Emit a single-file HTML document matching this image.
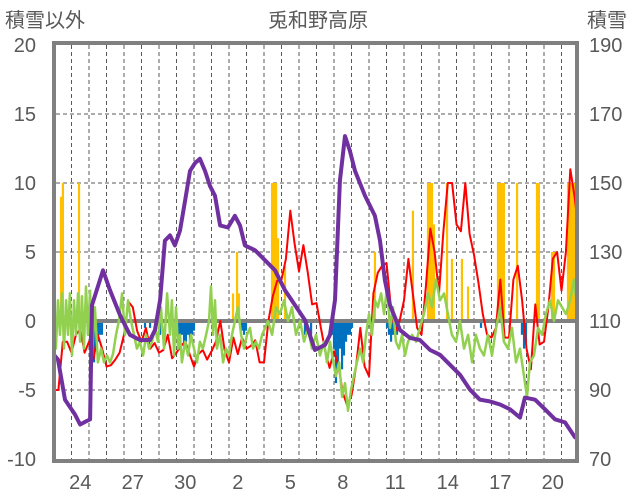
<!DOCTYPE html>
<html><head><meta charset="utf-8"><style>
html,body{margin:0;padding:0;background:#fff;}
svg{display:block;font-family:"Liberation Sans","Noto Sans CJK JP",sans-serif;}
</style></head><body>
<svg id="chart" width="636" height="501" viewBox="0 0 636 501" xmlns="http://www.w3.org/2000/svg">
<defs><clipPath id="pc"><rect x="56" y="45" width="519" height="414"/></clipPath></defs>
<text x="5" y="27" font-size="20" fill="#595959">積雪以外</text>
<text x="318" y="27" font-size="20" fill="#595959" text-anchor="middle">兎和野高原</text>
<text x="587" y="27" font-size="20" fill="#595959">積雪</text>
<g id="grid"></g>
<g id="bars" clip-path="url(#pc)"></g>
<g id="lines" clip-path="url(#pc)"></g>
<g id="frame"></g>
<g id="labels"></g>
</svg>
<script>
const leftTicks=[20,15,10,5,0,-5,-10];
const rightTicks=[190,170,150,130,110,90,70];
const xTickLabels=["24","27","30","2","5","8","11","14","17","20"];
const xTickDays=[1,4,7,10,13,16,19,22,25,28];
const yellowDay=[0.40,0.51,1.43,10.23,10.46,10.57,12.46,12.57,12.69,12.8,13.2,18.34,20.51,21.37,21.49,21.6,21.71,22.46,22.74,23.31,23.66,25.37,25.49,25.6,25.71,26.46,27.6,27.71,28.46,28.57,29.37,29.49,29.6,29.71];
const yellowVal=[9,10,10,2,5,2,10,10,10,6,4,5,8,10,10,10,7,10,4.5,4.5,2.5,10,10,10,10,10,10,10,5,5,10,10,10,10];
const blueDay=[0.11,1.94,2.06,2.17,2.29,2.4,2.51,2.63,2.74,5.2,5.49,6.06,6.97,7.09,7.2,7.31,7.43,7.54,7.66,7.77,7.89,8.0,10.74,10.86,10.97,14.06,14.34,14.69,15.89,16.0,16.11,16.23,16.34,16.46,16.57,16.69,16.8,16.91,17.03,19.03,19.14,19.26,19.37,19.49,19.6,24.4,26.74,26.86,26.97];
const blueVal=[-1,-1,-2,-1.5,-3,-2,-1.5,-1,-1,-0.5,-0.5,-1,-1,-1.5,-1.5,-1,-2,-1.5,-1,-1.5,-1,-0.7,-0.7,-1,-0.7,-0.5,-1,-1,-1,-2,-4.5,-3,-2,-3.5,-2.5,-1.5,-1,-1,-0.5,-0.5,-1,-1.5,-1,-0.5,-1,-0.5,-1,-2,-1.5];
const redStartDay=0, redStepDay=0.25;
const redVal=[-5,-5,-1.5,-1.5,-2.3,-1,-0.6,-2.3,-1.5,-2.8,-1,-2,-3.3,-3.2,-2.8,-2.3,-1,1.4,1,-0.7,-1.5,-0.5,-2,-1.6,-2.3,-2.1,-1,-2.7,-2.3,-1.8,-1.5,-2.4,-3.3,-2.4,-2.1,-2.8,-2.2,-1.5,0,-2.1,-3,-1.2,-2.4,-1.2,-2,-1.8,-1.4,-3,-3,0,1.8,2.9,3,4.5,8,5.6,3.6,5.5,3.5,1.2,1.3,-0.5,-2.2,-3.4,-2.2,-3.2,-5.2,-6.1,-5.4,-3.4,-0.5,-3.3,-4,2,3.5,4,4.2,1,-0.8,0,1.5,4.5,2,-0.5,-1,2.5,6.7,5,2,6.5,10,10,7,6.5,10,6.3,4.8,2.8,0.5,-1,-1.2,-0.5,3,-1.2,-1.2,3,4,1.5,-2,-3.5,1.2,-1.7,-1.5,1,4.5,5,2.2,5,11,9,6.3];
const greenDay=[0,.11,.23,.34,.46,.57,.69,.8,.91,1.03,1.14,1.26,1.37,1.49,1.6,1.71,1.83,1.94,2.06,2.17,2.34,2.51,2.69,2.86,3.03,3.2,3.37,3.54,3.71,3.89,4.06,4.23,4.4,4.57,4.74,4.91,5.09,5.26,5.43,5.6,5.77,5.94,6.11,6.29,6.46,6.63,6.74,6.86,6.97,7.09,7.2,7.31,7.49,7.66,7.83,8,8.17,8.34,8.51,8.69,8.86,8.97,9.09,9.2,9.31,9.49,9.66,9.83,10,10.17,10.34,10.51,10.69,10.86,11.03,11.2,11.37,11.54,11.71,11.89,12.06,12.23,12.46,12.69,12.91,13.14,13.37,13.6,13.83,14.06,14.29,14.51,14.74,14.97,15.2,15.43,15.6,15.77,15.94,16.11,16.29,16.46,16.63,16.8,16.97,17.14,17.31,17.49,17.66,17.83,18,18.17,18.34,18.51,18.69,18.86,19.03,19.2,19.37,19.54,19.71,19.89,20.06,20.23,20.46,20.69,20.91,21.14,21.37,21.6,21.83,22.06,22.29,22.51,22.74,22.97,23.2,23.43,23.66,23.89,24.11,24.34,24.57,24.8,25.03,25.26,25.49,25.71,25.94,26.17,26.4,26.63,26.86,27.03,27.2,27.43,27.66,27.89,28.11,28.34,28.57,28.8,29.03,29.26,29.49,29.71,29.89];
const greenVal=[1,-2,1.5,-1,2,-2,1.5,-1,2,-2.5,1.5,-1,2,-1.5,1.8,-2,2.5,-1,2.2,-2.5,1,-3,-2,-3,-2.5,-3,-2.4,-1,0,2,-1,1.5,0,-1,-2,-1.5,-2.5,-1,-2,-1.5,-0.5,-1.5,1,-2,2,-1,1.5,-2.5,1,-2,-1,-3,-1.5,-2.5,-1,-2,-3,-1.5,-2,-1,0,2.5,-1,1.5,-2,-1,-3,-2,-2.5,-1,0,1,-1,-2,-1,-0.5,-2,-1.5,-2,-1,-0.5,0,-1,1,0.5,1.5,0,1,-1,0,-1.5,-0.5,-2,-1,-2.5,-1.5,-3,-1.5,-2.8,-4,-3,-5.5,-4.5,-6.5,-5,-4,-3,-2,-3,-1,0.5,-1,1.5,1,2,0.5,2.5,-0.5,1,-1.5,-2,-1,-2.5,-1.5,-1,-1.5,-0.5,0.5,2,1,3,1.5,2,0.5,-1,-1.5,0,-2,-1,-3,-1,-2,-2.5,-1,-2.5,-0.5,1,-1.5,-2,-0.5,-3,-2,-4,-5.5,-3,-2.5,-0.5,-1,0.5,1.5,0,1.5,1,0.5,1.5,3,1];
const snowDay=[0,.23,.63,1.2,1.49,1.83,2.06,2.17,2.8,3.2,3.77,4.34,4.91,5.49,5.77,6.06,6.34,6.63,6.91,7.2,7.49,7.77,8.06,8.34,8.63,8.91,9.2,9.49,9.94,10.34,10.63,10.91,11.49,12.06,12.63,13.2,13.77,14.34,14.91,15.49,15.77,16.06,16.34,16.63,16.91,17.2,17.77,18.34,18.63,18.91,19.2,19.77,20.34,20.91,21.49,22.06,22.63,23.2,23.77,24.34,24.91,25.49,26.06,26.63,26.91,27.49,28.06,28.63,29.2,29.77];
const snowVal=[100.2,98.8,87.2,82.9,80,80.9,81.5,114.6,124.7,118.9,111.7,106,104.5,104.5,107.4,116.1,133.3,134.8,131.9,136.2,144.9,153.5,155.8,157,153.5,149.2,146.3,137.7,137.1,140.5,137.7,131.9,130.5,127.6,124.7,118.9,114.6,110.3,101.6,103.1,106,116.1,150.6,163.6,159.3,153.5,146.3,140.5,133.3,121.8,114.6,107.4,105.1,104.5,101.6,100.2,97.3,94.4,90.1,87.2,86.7,85.8,84.4,82,87.8,87.2,84.4,81.5,80.6,76.3];

const NS='http://www.w3.org/2000/svg';
const X0=54, DAYW=17.5, Y0=321, LPX=13.8, RPX=3.45;
function xs(d){return X0+d*DAYW;}
function yl(v){return Y0-v*LPX;}
function yr(v){return Y0-(v-110)*RPX;}
function mk(tag,attrs,parent){const e=document.createElementNS(NS,tag);for(const k in attrs)e.setAttribute(k,attrs[k]);parent.appendChild(e);return e;}
const grid=document.getElementById('grid'),bars=document.getElementById('bars'),lines=document.getElementById('lines'),frame=document.getElementById('frame'),labels=document.getElementById('labels');
for(let n=1;n<30;n++){const x=xs(n);const g=mk('line',{x1:x,x2:x,y1:45,y2:459,stroke:'#595959','stroke-width':1,'stroke-dasharray':'4,3'},grid);

}
leftTicks.forEach(v=>{if(v===20||v===-10||v===0)return;const g=mk('line',{x1:56,x2:575,y1:yl(v),y2:yl(v),stroke:'#595959','stroke-width':1,'stroke-dasharray':'4,3'},grid);

});
yellowDay.forEach((d,i)=>{const v=yellowVal[i];const r=mk('rect',{x:xs(d)-1.1,y:yl(v),width:2.2,height:yl(0)-yl(v),fill:'#FFC000'},bars);

});
blueDay.forEach((d,i)=>{const v=blueVal[i];const r=mk('rect',{x:xs(d)-1.1,y:yl(0),width:2.2,height:yl(v)-yl(0),fill:'#0070C0'},bars);

});
const zl=mk('line',{x1:56,x2:575,y1:yl(0),y2:yl(0),stroke:'#808080','stroke-width':4},bars);


function poly(pts,color,w,name){const p=mk('polyline',{points:pts.map(q=>q[0].toFixed(1)+','+q[1].toFixed(1)).join(' '),fill:'none',stroke:color,'stroke-width':w,'stroke-linejoin':'round','stroke-linecap':'round'},lines);

}
poly(redVal.map((v,i)=>[xs(redStartDay+i*redStepDay),yl(v)]),'#FF0000',2,'temperature-line');
poly(greenVal.map((v,i)=>[xs(greenDay[i]),yl(v)]),'#92D050',2.5,'green-series-line');
poly(snowVal.map((v,i)=>[xs(snowDay[i]),yr(v)]),'#7030A0',4,'snow-depth-line');
const fr=mk('rect',{x:54,y:43,width:523,height:418,fill:'none',stroke:'#808080','stroke-width':4},frame);


leftTicks.forEach(v=>{const t=mk('text',{x:36,y:yl(v)+7,'font-size':20,fill:'#595959','text-anchor':'end'},labels);t.textContent=String(v);

});
rightTicks.forEach((v,i)=>{const t=mk('text',{x:589,y:yl(leftTicks[i])+7,'font-size':20,fill:'#595959'},labels);t.textContent=String(v);

});
xTickLabels.forEach((s,i)=>{const t=mk('text',{x:xs(xTickDays[i]+0.5),y:489,'font-size':20,fill:'#595959','text-anchor':'middle'},labels);t.textContent=s;

});
</script>
</body></html>
